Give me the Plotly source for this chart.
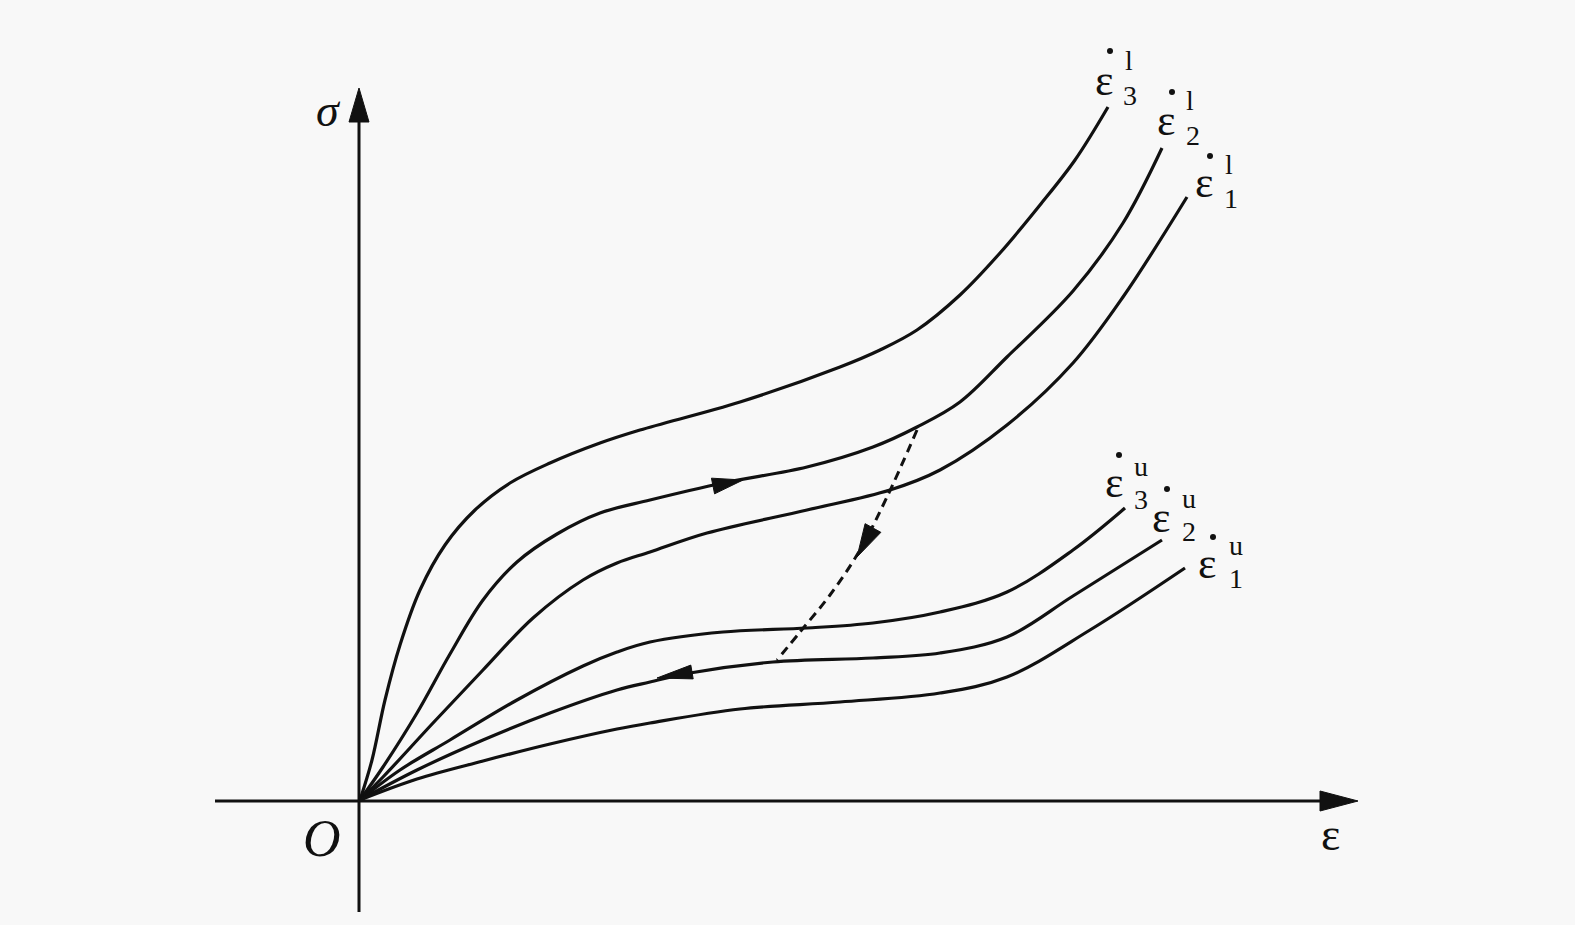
import numpy as np
import plotly.graph_objects as go

# ---- curve data (pixel reads; converted to strain/stress with origin at (0,0)) ----
OX, OY = 360, 800
c3l_px = [360, 372, 385, 400, 420, 445, 475, 510, 550, 600, 640, 740, 840, 880, 917, 960, 1000, 1040, 1075, 1108]
c3l_py = [800, 760, 700, 645, 590, 545, 510, 483, 463, 443, 430, 402, 367, 350, 330, 295, 253, 205, 160, 107]
c2l_px = [360, 383, 417, 450, 483, 517, 557, 600, 650, 723, 807, 873, 917, 960, 1007, 1073, 1123, 1162]
c2l_py = [800, 767, 713, 654, 600, 562, 534, 513, 500, 483, 467, 447, 427, 402, 357, 291, 223, 148]
c1l_px = [360, 383, 433, 483, 533, 583, 617, 650, 707, 807, 890, 940, 1007, 1073, 1123, 1187]
c1l_py = [800, 777, 723, 670, 618, 580, 563, 552, 533, 510, 490, 470, 425, 363, 297, 197]
c3u_px = [360, 400, 450, 517, 583, 617, 650, 723, 807, 873, 940, 1007, 1073, 1125]
c3u_py = [800, 770, 740, 700, 666, 652, 642, 632, 628, 623, 612, 592, 550, 508]
c2u_px = [360, 417, 483, 550, 617, 650, 690, 773, 873, 940, 1007, 1073, 1162]
c2u_py = [800, 770, 740, 713, 690, 682, 673, 662, 658, 653, 637, 596, 540]
c1u_px = [360, 417, 483, 550, 617, 650, 740, 840, 940, 1007, 1090, 1185]
c1u_py = [800, 779, 761, 744, 729, 723, 709, 702, 693, 677, 630, 568]
dash_px = [917, 887, 860, 830, 800, 777]
dash_py = [430, 497, 550, 595, 632, 660]

# arrowheads on curves: tip and tail points
arrow_tip_px = [743, 657, 857]
arrow_tip_py = [480, 678, 557]
arrow_tail_px = [713, 692, 873]
arrow_tail_py = [486, 672, 528]
arrow_halfw = [8, 7, 9]

# label text and positions
curve_sup = ["l", "l", "l", "u", "u", "u"]
curve_sub = ["3", "2", "1", "3", "2", "1"]
lab_eps_px = [1104, 1166, 1204, 1114, 1161, 1207]
lab_eps_py = [80, 120, 182, 482, 517, 563]
lab_dot_px = [1110, 1172, 1210, 1119, 1167, 1213]
lab_dot_py = [51, 92, 156, 455, 489, 537]
lab_sup_px = [1129, 1190, 1229, 1141, 1189, 1236]
lab_sup_py = [60, 100, 164, 466, 498, 545]
lab_sub_px = [1130, 1193, 1231, 1141, 1189, 1236]
lab_sub_py = [95, 135, 198, 499, 531, 578]

def cx(v):
    return [p - OX for p in v]

def cy(v):
    return [OY - p for p in v]

INK = "#111111"
BG = "#f8f8f8"
SERIF = "Liberation Serif"

fig = go.Figure()

def tri(tx, ty, bx, by, hw):
    dx, dy = tx - bx, ty - by
    L = np.hypot(dx, dy)
    px, py = -dy / L * hw, dx / L * hw
    return [tx, bx + px, bx - px, tx], [ty, by + py, by - py, ty]

# axes
fig.add_trace(go.Scatter(x=[-145, 962], y=[-1, -1], mode="lines",
                         line=dict(color=INK, width=3), hoverinfo="skip"))
fig.add_trace(go.Scatter(x=[-1, -1], y=[-112, 680], mode="lines",
                         line=dict(color=INK, width=3), hoverinfo="skip"))
for (tx, ty, bx, by) in [(998, -1, 960, -1), (-1, 712, -1, 678)]:
    xs, ys = tri(tx, ty, bx, by, 10)
    fig.add_trace(go.Scatter(x=xs, y=ys, mode="lines", fill="toself",
                             fillcolor=INK, line=dict(color=INK, width=1),
                             hoverinfo="skip"))

# curves
for px_, py_ in [(c3l_px, c3l_py), (c2l_px, c2l_py), (c1l_px, c1l_py),
                 (c3u_px, c3u_py), (c2u_px, c2u_py), (c1u_px, c1u_py)]:
    fig.add_trace(go.Scatter(x=cx(px_), y=cy(py_), mode="lines",
                             line=dict(color=INK, width=3.2, shape="spline", smoothing=1),
                             hoverinfo="skip"))
fig.add_trace(go.Scatter(x=cx(dash_px), y=cy(dash_py), mode="lines",
                         line=dict(color=INK, width=3, dash="9px,6px", shape="spline"),
                         hoverinfo="skip"))

for tx, ty, bx, by, hw in zip(cx(arrow_tip_px), cy(arrow_tip_py),
                              cx(arrow_tail_px), cy(arrow_tail_py), arrow_halfw):
    xs, ys = tri(tx, ty, bx, by, hw)
    fig.add_trace(go.Scatter(x=xs, y=ys, mode="lines", fill="toself",
                             fillcolor=INK, line=dict(color=INK, width=1),
                             hoverinfo="skip"))

# dots over epsilon
fig.add_trace(go.Scatter(x=cx(lab_dot_px), y=cy(lab_dot_py), mode="markers",
                         marker=dict(color=INK, size=6), hoverinfo="skip"))

ann = []
ex, ey = cx(lab_eps_px), cy(lab_eps_py)
sx, sy = cx(lab_sup_px), cy(lab_sup_py)
bx_, by_ = cx(lab_sub_px), cy(lab_sub_py)
for i in range(6):
    ann.append(dict(x=ex[i], y=ey[i], text="ε", showarrow=False,
                    font=dict(family=SERIF, size=44, color=INK), borderpad=0))
    ann.append(dict(x=sx[i], y=sy[i], text=curve_sup[i], showarrow=False,
                    font=dict(family=SERIF, size=28, color=INK), borderpad=0))
    ann.append(dict(x=bx_[i], y=by_[i], text=curve_sub[i], showarrow=False,
                    font=dict(family=SERIF, size=28, color=INK), borderpad=0))
ann.append(dict(x=328 - OX, y=OY - 110, text="<i>σ</i>", showarrow=False,
                font=dict(family=SERIF, size=46, color=INK)))
ann.append(dict(x=322 - OX, y=OY - 838, text="<i>O</i>", showarrow=False,
                font=dict(family=SERIF, size=52, color=INK)))
ann.append(dict(x=1330 - OX, y=OY - 834, text="ε", showarrow=False,
                font=dict(family=SERIF, size=46, color=INK)))
for a in ann:
    a["xref"] = "x"
    a["yref"] = "y"

fig.update_layout(
    width=1575, height=925,
    margin=dict(l=0, r=0, t=0, b=0),
    paper_bgcolor=BG, plot_bgcolor=BG,
    showlegend=False,
    xaxis=dict(range=[-OX, 1575 - OX], visible=False, fixedrange=True),
    yaxis=dict(range=[OY - 925, OY], visible=False, fixedrange=True),
    annotations=ann,
)

fig.write_html("out.html", config={"displayModeBar": False},
               post_script="document.body.style.margin='0';document.body.style.overflow='hidden';")
